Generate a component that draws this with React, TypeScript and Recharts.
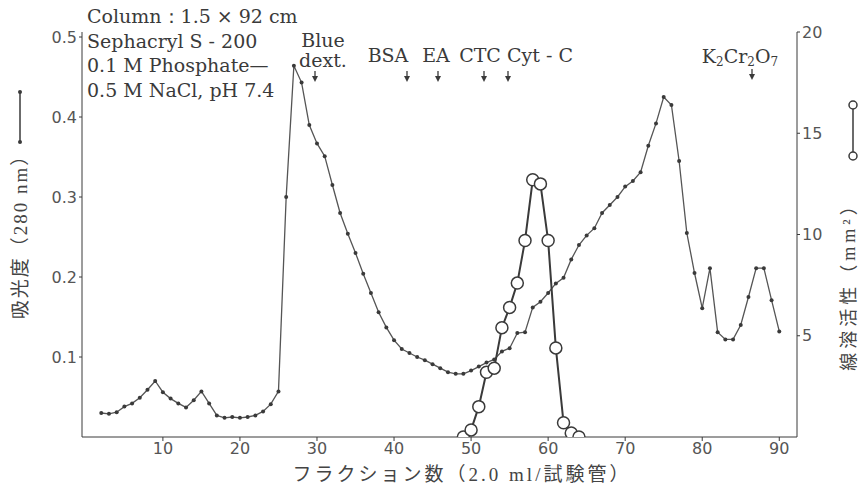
import React from 'react';
import { LineChart, Line, XAxis, YAxis } from 'recharts';

// 吸光度 (280 nm) — one reading per fraction
const absFractions = [
  2, 3, 4, 5, 6, 7, 8, 9, 10, 11, 12, 13, 14, 15, 16, 17, 18, 19, 20, 21, 22, 23, 24, 25,
  26, 27, 28, 29, 30, 31, 32, 33, 34, 35, 36, 37, 38, 39, 40, 41, 42, 43, 44, 45, 46, 47,
  48, 49, 50, 51, 52, 53, 54, 55, 56, 57, 58, 59, 60, 61, 62, 63, 64, 65, 66, 67, 68, 69,
  70, 71, 72, 73, 74, 75, 76, 77, 78, 79, 80, 81, 82, 83, 84, 85, 86, 87, 88, 89, 90,
];
const absValues = [
  0.03, 0.029, 0.031, 0.038, 0.042, 0.049, 0.059, 0.07, 0.056, 0.048, 0.042, 0.037, 0.046,
  0.057, 0.042, 0.027, 0.024, 0.025, 0.024, 0.025, 0.027, 0.032, 0.041, 0.057,
  0.3, 0.464, 0.443, 0.39, 0.367, 0.351, 0.315, 0.28, 0.254, 0.23, 0.204, 0.18, 0.156, 0.137,
  0.121, 0.11, 0.105, 0.1, 0.096, 0.091, 0.086, 0.081, 0.079, 0.079, 0.083, 0.088, 0.093,
  0.097, 0.107, 0.111, 0.13, 0.131, 0.162, 0.169, 0.18, 0.192, 0.199, 0.222, 0.24, 0.252,
  0.261, 0.28, 0.29, 0.3, 0.313, 0.32, 0.331, 0.364, 0.392, 0.425, 0.415, 0.345, 0.255,
  0.205, 0.161, 0.211, 0.131, 0.122, 0.122, 0.14, 0.175, 0.211, 0.211, 0.171, 0.132,
];

// 線溶活性 (mm²)
const actFractions = [49, 50, 51, 52, 53, 54, 55, 56, 57, 58, 59, 60, 61, 62, 63, 64];
const actValues = [0, 0.35, 1.5, 3.2, 3.4, 5.4, 6.4, 7.6, 9.7, 12.7, 12.5, 9.7, 4.4, 0.7, 0.2, 0];

const xTicks = [10, 20, 30, 40, 50, 60, 70, 80, 90];
const absTicks = [0.1, 0.2, 0.3, 0.4, 0.5];
const actTicks = [5, 10, 15, 20];

const conditions = [
  'Column：1.5 × 92 cm',
  'Sephacryl S - 200',
  '0.1 M Phosphate—',
  '0.5 M NaCl, pH 7.4',
];

const markers = [
  { label: 'BSA', x: 388, arrow: 407 },
  { label: 'EA', x: 436, arrow: 438 },
  { label: 'CTC', x: 480, arrow: 484 },
  { label: 'Cyt - C', x: 540, arrow: 508 },
];

const ink = '#3a3a3a';
const serif = '"DejaVu Serif", "Liberation Serif", serif';
const cjk = '"Liberation Serif", "Noto Sans CJK JP", serif';

const allFractions = Array.from(new Set([...absFractions, ...actFractions])).sort((a, b) => a - b);
const rows = allFractions.map(f => {
  const ai = absFractions.indexOf(f);
  const ci = actFractions.indexOf(f);
  return {
    fraction: f,
    abs: ai >= 0 ? absValues[ai] : null,
    act: ci >= 0 ? actValues[ci] : null,
  };
});

const OpenCircle = (props: any) => {
  const { cx, cy } = props;
  if (cx == null || cy == null) return null;
  return <circle cx={cx} cy={cy} r={6} fill="#fff" stroke={ink} strokeWidth={1.5} />;
};

const SmallDot = (props: any) => {
  const { cx, cy } = props;
  if (cx == null || cy == null) return null;
  return <circle cx={cx} cy={cy} r={2} fill={ink} />;
};

// small down arrow like the printed ones
const DownArrow = ({ x, y }: { x: number; y: number }) => (
  <g>
    <line x1={x} y1={y} x2={x} y2={y + 7} stroke={ink} strokeWidth={1.3} />
    <path d={`M${x - 3},${y + 5} L${x + 3},${y + 5} L${x},${y + 11} Z`} fill={ink} />
  </g>
);

const tickStyle = { fontSize: 16, fill: '#555', fontFamily: '"DejaVu Sans", sans-serif' };

export default function App() {
  return (
    <div style={{ position: 'absolute', left: 0, top: 0, width: 862, height: 488, background: '#fff' }}>
      <LineChart width={862} height={488} data={rows} margin={{ top: 32, right: 0, bottom: 0, left: 0 }}>
        <XAxis
          dataKey="fraction"
          type="number"
          domain={[-0.5, 92.3]}
          ticks={xTicks}
          allowDataOverflow
          height={51}
          tickSize={4}
          stroke={ink}
          tick={tickStyle}
        />
        <YAxis
          yAxisId="abs"
          domain={[0, 0.50625]}
          ticks={absTicks}
          allowDataOverflow
          width={82}
          tickSize={3}
          stroke={ink}
          tick={tickStyle}
          tickFormatter={(v: number) => v.toFixed(1)}
        />
        <YAxis
          yAxisId="act"
          orientation="right"
          domain={[0, 20]}
          ticks={actTicks}
          allowDataOverflow
          width={65}
          tickSize={3}
          stroke={ink}
          tick={tickStyle}
        />
        <Line
          yAxisId="abs"
          dataKey="abs"
          stroke="#555"
          strokeWidth={1.3}
          dot={<SmallDot />}
          connectNulls
          isAnimationActive={false}
        />
        <Line
          yAxisId="act"
          dataKey="act"
          stroke={ink}
          strokeWidth={2}
          dot={<OpenCircle />}
          connectNulls
          isAnimationActive={false}
        />
      </LineChart>

      <svg
        width={862}
        height={488}
        style={{ position: 'absolute', left: 0, top: 0, pointerEvents: 'none' }}
      >
        {conditions.map((t, i) => (
          <text key={t} x={87} y={23 + i * 24.5} fontSize={19} fontFamily={serif} fill={ink}>
            {t}
          </text>
        ))}
        <text x={323} y={47} fontSize={19} fontFamily={serif} fill={ink} textAnchor="middle">Blue</text>
        <text x={323} y={67} fontSize={19} fontFamily={serif} fill={ink} textAnchor="middle">dext.</text>
        <DownArrow x={315} y={71} />
        {markers.map(m => (
          <g key={m.label}>
            <text x={m.x} y={62} fontSize={19} fontFamily={serif} fill={ink} textAnchor="middle">{m.label}</text>
            <DownArrow x={m.arrow} y={71} />
          </g>
        ))}
        <text x={740} y={63} fontSize={19} fontFamily={serif} fill={ink} textAnchor="middle">
          K<tspan fontSize={12} dy={3}>2</tspan><tspan dy={-3}>Cr</tspan><tspan fontSize={12} dy={3}>2</tspan><tspan dy={-3}>O</tspan><tspan fontSize={12} dy={3}>7</tspan>
        </text>
        <DownArrow x={752} y={69} />

        {/* left legend key and title */}
        <line x1={20} y1={92} x2={20} y2={142} stroke={ink} strokeWidth={1.5} />
        <circle cx={20} cy={92} r={2} fill={ink} />
        <circle cx={20} cy={142} r={2} fill={ink} />
        <text
          x={0}
          y={0}
          transform="translate(27 232) rotate(-90)"
          fontSize={19}
          fontFamily={cjk}
          fill="#444"
          textAnchor="middle"
          letterSpacing={2}
        >
          吸光度（280 nm）
        </text>

        {/* right legend key and title */}
        <line x1={853} y1={105} x2={853} y2={156} stroke={ink} strokeWidth={1.5} />
        <circle cx={853} cy={105} r={4} fill="#fff" stroke={ink} strokeWidth={1.5} />
        <circle cx={853} cy={156} r={4} fill="#fff" stroke={ink} strokeWidth={1.5} />
        <text
          x={0}
          y={0}
          transform="translate(855 282) rotate(-90)"
          fontSize={18}
          fontFamily={cjk}
          fill="#444"
          textAnchor="middle"
          letterSpacing={4}
        >
          線溶活性（mm²）
        </text>

        <text x={462} y={481} fontSize={19} fontFamily={cjk} fill="#444" textAnchor="middle" letterSpacing={3}>
          フラクション数（2.0 ml/試験管）
        </text>
      </svg>
    </div>
  );
}
